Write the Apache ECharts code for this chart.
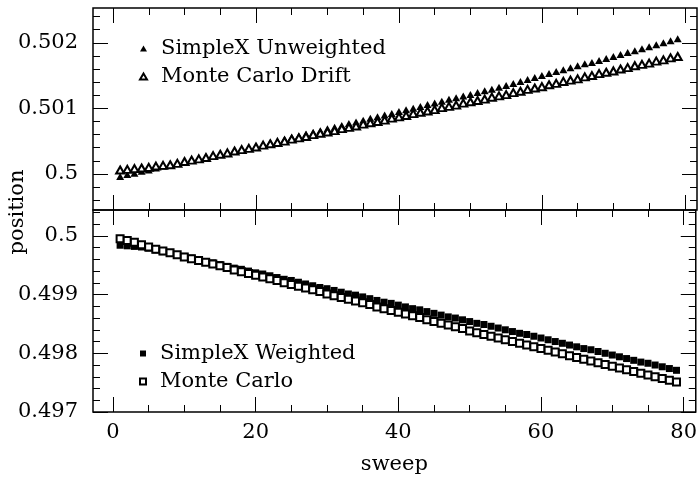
<!DOCTYPE html>
<html><head><meta charset="utf-8">
<script src="https://cdn.jsdelivr.net/npm/echarts@6/dist/echarts.min.js"></script>
<style>html,body{margin:0;padding:0;background:#fff}#c{width:700px;height:478px}</style>
</head><body><div id="c"></div>
<script>
const sweep = [1,2,3,4,5,6,7,8,9,10,11,12,13,14,15,16,17,18,19,20,21,22,23,24,25,26,27,28,29,30,31,32,33,34,35,36,37,38,39,40,41,42,43,44,45,46,47,48,49,50,51,52,53,54,55,56,57,58,59,60,61,62,63,64,65,66,67,68,69,70,71,72,73,74,75,76,77,78,79];
const simplexUnweighted = [0.49996,0.49999,0.50001,0.50004,0.50006,0.50009,0.50012,0.50014,0.50016,0.50019,0.50021,0.50023,0.50026,0.50028,0.50030,0.50032,0.50035,0.50037,0.50040,0.50042,0.50045,0.50048,0.50050,0.50053,0.50056,0.50058,0.50061,0.50063,0.50066,0.50069,0.50071,0.50074,0.50077,0.50079,0.50082,0.50085,0.50087,0.50090,0.50092,0.50095,0.50098,0.50100,0.50103,0.50106,0.50108,0.50111,0.50114,0.50116,0.50119,0.50121,0.50124,0.50127,0.50129,0.50132,0.50135,0.50138,0.50141,0.50144,0.50147,0.50150,0.50153,0.50156,0.50159,0.50162,0.50165,0.50168,0.50170,0.50173,0.50176,0.50179,0.50182,0.50185,0.50188,0.50191,0.50194,0.50197,0.50200,0.50203,0.50206];
const monteCarloDrift = [0.50006,0.50007,0.50008,0.50009,0.50010,0.50012,0.50013,0.50014,0.50016,0.50019,0.50021,0.50023,0.50025,0.50028,0.50030,0.50032,0.50035,0.50037,0.50039,0.50041,0.50044,0.50046,0.50048,0.50050,0.50053,0.50055,0.50057,0.50060,0.50062,0.50064,0.50066,0.50069,0.50071,0.50073,0.50076,0.50078,0.50080,0.50082,0.50085,0.50087,0.50089,0.50092,0.50094,0.50096,0.50098,0.50101,0.50103,0.50105,0.50108,0.50110,0.50112,0.50114,0.50117,0.50119,0.50121,0.50124,0.50126,0.50129,0.50131,0.50133,0.50136,0.50138,0.50141,0.50143,0.50145,0.50148,0.50150,0.50153,0.50155,0.50157,0.50160,0.50162,0.50165,0.50167,0.50169,0.50172,0.50174,0.50177,0.50179];
const simplexWeighted = [0.49984,0.49983,0.49982,0.49981,0.49979,0.49976,0.49973,0.49970,0.49968,0.49965,0.49962,0.49959,0.49956,0.49954,0.49951,0.49948,0.49945,0.49943,0.49940,0.49937,0.49935,0.49932,0.49929,0.49926,0.49924,0.49921,0.49918,0.49915,0.49912,0.49910,0.49907,0.49904,0.49901,0.49899,0.49896,0.49893,0.49890,0.49887,0.49885,0.49882,0.49879,0.49876,0.49874,0.49871,0.49868,0.49865,0.49862,0.49860,0.49857,0.49854,0.49851,0.49849,0.49846,0.49843,0.49840,0.49837,0.49834,0.49832,0.49829,0.49826,0.49823,0.49820,0.49817,0.49814,0.49811,0.49808,0.49806,0.49803,0.49800,0.49797,0.49794,0.49791,0.49788,0.49785,0.49783,0.49780,0.49777,0.49774,0.49771];
const monteCarlo = [0.49995,0.49992,0.49989,0.49985,0.49981,0.49977,0.49974,0.49971,0.49968,0.49964,0.49961,0.49958,0.49955,0.49952,0.49949,0.49946,0.49942,0.49939,0.49936,0.49933,0.49930,0.49927,0.49924,0.49920,0.49917,0.49914,0.49911,0.49908,0.49905,0.49901,0.49898,0.49895,0.49892,0.49889,0.49886,0.49883,0.49879,0.49876,0.49873,0.49870,0.49867,0.49864,0.49861,0.49857,0.49854,0.49851,0.49848,0.49845,0.49842,0.49838,0.49835,0.49832,0.49829,0.49826,0.49823,0.49820,0.49817,0.49814,0.49811,0.49808,0.49805,0.49802,0.49799,0.49796,0.49793,0.49790,0.49787,0.49784,0.49781,0.49778,0.49775,0.49772,0.49769,0.49766,0.49763,0.49760,0.49757,0.49754,0.49751];

const xMajorTicks = [0,20,40,60,80];
const xMinorTicks = [0,5,10,15,20,25,30,35,40,45,50,55,60,65,70,75,80];
const topMajorTicks = [0.5,0.501,0.502];
const topMinorTicks = [0.4996,0.4998,0.5,0.5002,0.5004,0.5006,0.5008,0.501,0.5012,0.5014,0.5016,0.5018,0.502,0.5022,0.5024];
const bottomMajorTicks = [0.497,0.498,0.499,0.5];
const bottomMinorTicks = [0.497,0.4972,0.4974,0.4976,0.4978,0.498,0.4982,0.4984,0.4986,0.4988,0.499,0.4992,0.4994,0.4996,0.4998,0.5,0.5002,0.5004];

const FONT = 'DejaVu Serif';
const FS = 21;
const XMIN = -2.8, XMAX = 81.7;
const TOPY = [0.49945, 0.50253];
const BOTY = [0.497, 0.50044];

function tick(len, vals) { return {inside: true, length: len, customValues: vals, lineStyle: {color: '#000', width: 1}}; }
function xAxes(g, showLabels) {
  const base = {gridIndex: g, type: 'value', min: XMIN, max: XMAX, splitLine: {show: false}, axisLine: {show: false, onZero: false}};
  const lab = {show: showLabels, customValues: xMajorTicks, fontFamily: FONT, fontSize: FS, color: '#000', margin: 10};
  return [
    Object.assign({}, base, {position: 'bottom', axisTick: tick(15, xMajorTicks), axisLabel: lab,
      name: showLabels ? 'sweep' : '', nameLocation: 'middle', nameGap: 42, nameTextStyle: {fontFamily: FONT, fontSize: FS, color: '#000'}}),
    Object.assign({}, base, {position: 'bottom', axisTick: tick(7, xMinorTicks), axisLabel: {show: false}}),
    Object.assign({}, base, {position: 'top', axisTick: tick(15, xMajorTicks), axisLabel: {show: false}}),
    Object.assign({}, base, {position: 'top', axisTick: tick(7, xMinorTicks), axisLabel: {show: false}})
  ];
}
function yAxes(g, range, major, minor) {
  const base = {gridIndex: g, type: 'value', min: range[0], max: range[1], splitLine: {show: false}, axisLine: {show: false, onZero: false}};
  return [
    Object.assign({}, base, {position: 'left', axisTick: tick(15, major),
      axisLabel: {customValues: major, fontFamily: FONT, fontSize: FS, color: '#000', margin: 15}}),
    Object.assign({}, base, {position: 'left', axisTick: tick(7, minor), axisLabel: {show: false}}),
    Object.assign({}, base, {position: 'right', axisTick: tick(15, major), axisLabel: {show: false}}),
    Object.assign({}, base, {position: 'right', axisTick: tick(7, minor), axisLabel: {show: false}})
  ];
}
function pairs(vals) { return sweep.map((s, i) => [s, vals[i]]); }

const chart = echarts.init(document.getElementById('c'), null, {renderer: 'canvas'});
const legendText = {fontFamily: FONT, fontSize: FS, color: '#000', padding: [0, 0, 0, 9], lineHeight: 21};
chart.setOption({
  animation: false,
  backgroundColor: '#fff',
  grid: [
    {left: 93, top: 8, width: 604, height: 202, show: true, borderColor: '#000', borderWidth: 1.5, backgroundColor: 'transparent'},
    {left: 93, top: 210, width: 604, height: 202, show: true, borderColor: '#000', borderWidth: 1.5, backgroundColor: 'transparent'}
  ],
  xAxis: xAxes(0, false).concat(xAxes(1, true)),
  yAxis: yAxes(0, TOPY, topMajorTicks, topMinorTicks).concat(yAxes(1, BOTY, bottomMajorTicks, bottomMinorTicks)),
  legend: [
    {data: ['SimpleX Unweighted', 'Monte Carlo Drift'], orient: 'vertical', left: 134, top: 33, itemWidth: 7, itemHeight: 6, itemGap: 7, textStyle: legendText, selectedMode: false},
    {data: ['SimpleX Weighted', 'Monte Carlo'], orient: 'vertical', left: 134, top: 338, itemWidth: 6, itemHeight: 6, itemGap: 7, textStyle: legendText, selectedMode: false}
  ],
  graphic: [
    {type: 'text', x: 18, y: 212, rotation: Math.PI / 2, style: {text: 'position', font: '21px "DejaVu Serif"', fill: '#000', align: 'center', verticalAlign: 'middle'}}
  ],
  series: [
    {name: 'SimpleX Unweighted', type: 'scatter', xAxisIndex: 0, yAxisIndex: 0, symbol: 'triangle', symbolSize: [8, 7], itemStyle: {color: '#000', opacity: 1}, data: pairs(simplexUnweighted)},
    {name: 'Monte Carlo Drift', type: 'scatter', xAxisIndex: 0, yAxisIndex: 0, symbol: 'emptyTriangle', symbolSize: [8, 7], itemStyle: {color: '#000', borderWidth: 0.8, opacity: 1}, data: pairs(monteCarloDrift)},
    {name: 'SimpleX Weighted', type: 'scatter', xAxisIndex: 4, yAxisIndex: 4, symbol: 'rect', symbolSize: 7, itemStyle: {color: '#000', opacity: 1}, data: pairs(simplexWeighted)},
    {name: 'Monte Carlo', type: 'scatter', xAxisIndex: 4, yAxisIndex: 4, symbol: 'emptyRect', symbolSize: 7, itemStyle: {color: '#000', borderWidth: 0.8, opacity: 1}, data: pairs(monteCarlo)}
  ]
});
</script></body></html>
